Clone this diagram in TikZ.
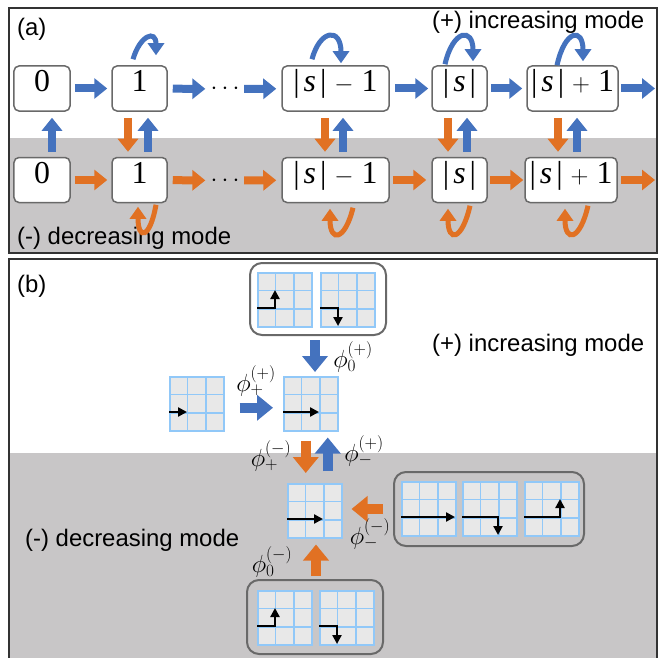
\documentclass[tikz,border=0pt]{standalone}
\usepackage{fontspec}
\setmainfont{Liberation Serif}
\newfontfamily\labelsans{Liberation Sans}
\usetikzlibrary{arrows.meta,calc}
\definecolor{ablue}{RGB}{68,114,190}
\definecolor{aorange}{RGB}{225,113,35}
\definecolor{bggray}{RGB}{200,198,199}
\definecolor{boxgray}{RGB}{105,105,105}
\definecolor{gridblue}{RGB}{145,200,248}
\definecolor{gridfill}{RGB}{232,232,232}
\tikzset{
 statebox/.style={draw=boxgray, line width=1.5bp, rounded corners=5bp, fill=white, minimum height=45bp, inner sep=0pt, text height=0.68em, text depth=0pt, font=\fontsize{32}{32}\selectfont},
 dotsnode/.style={inner sep=0pt, font=\fontsize{34}{34}\selectfont},
 fatblue/.style={ablue, line width=8bp, -{Triangle[length=13bp,width=20bp]}},
 fatorange/.style={aorange, line width=8bp, -{Triangle[length=13bp,width=20bp]}},
 bigblue/.style={ablue, line width=10bp, -{Triangle[length=16bp,width=25bp]}},
 bigorange/.style={aorange, line width=10bp, -{Triangle[length=16bp,width=25bp]}},
 bloop/.style={ablue, line width=5bp, -{Triangle[length=12bp,width=16bp]}},
 oloop/.style={aorange, line width=5bp, -{Triangle[length=12bp,width=16bp]}},
 modetext/.style={font=\labelsans\fontsize{24}{24}\selectfont, inner sep=0pt},
 philabel/.style={font=\fontsize{26}{26}\selectfont, inner sep=0pt},
 gridbox/.style={draw=gridblue, fill=gridfill, line width=1.5bp, minimum size=54bp, inner sep=0pt},
 gridline/.style={gridblue, line width=1.5bp},
 move/.style={black, line width=2.5bp, -{Triangle[length=9bp,width=9bp]}},
 grp/.style={draw=boxgray, line width=2bp, rounded corners=12bp, inner sep=0pt},
 panel/.style={draw=black!80, line width=1.5bp},
}
\newcommand\cellgrid[2]{%
  \node[gridbox, anchor=north west] (#1) at (#2) {};
  \draw[gridline] ($(#1.north west)!1/3!(#1.north east)$) -- ($(#1.south west)!1/3!(#1.south east)$);
  \draw[gridline] ($(#1.north west)!2/3!(#1.north east)$) -- ($(#1.south west)!2/3!(#1.south east)$);
  \draw[gridline] ($(#1.north west)!1/3!(#1.south west)$) -- ($(#1.north east)!1/3!(#1.south east)$);
  \draw[gridline] ($(#1.north west)!2/3!(#1.south west)$) -- ($(#1.north east)!2/3!(#1.south east)$);
}
\newcommand\absS{|\kern4bp\textit{s}\kern4bp|}
\newcommand\absSminus{\absS\hspace{0.25em}$-$\hspace{0.25em}1}
\newcommand\absSplus{\absS\hspace{0.25em}$+$\hspace{0.25em}1}
\begin{document}
\begin{tikzpicture}[x=1bp,y=-1bp]
\useasboundingbox (0,0) rectangle (664,658);
% ---------------- panel (a)
\fill[bggray] (9,138) rectangle (657,253);
\draw[panel] (9,8) rectangle (657,253);
\node[modetext, anchor=west] (labA) at (17,29) {(a)};
\node[modetext, anchor=west] (incA) at (432,22) {(+) increasing mode};
\node[modetext, anchor=west] (decA) at (17,238) {(-) decreasing mode};

\node[statebox, minimum width=56bp] (t0) at (42,88.5) {0};
\node[statebox, minimum width=55bp] (t1) at (139.5,88.5) {1};
\node[dotsnode] (tdots) at (225,89) {$\cdots$};
\node[statebox, minimum width=107bp] (ts1) at (335.5,88.5) {\absSminus};
\node[statebox, minimum width=55bp] (ts) at (459.5,88.5) {\absS};
\node[statebox, minimum width=91bp] (tsp) at (572.5,88.5) {\absSplus};
\coordinate (tend) at (655,88.5);

\node[statebox, minimum width=56bp] (b0) at (42,180) {0};
\node[statebox, minimum width=55bp] (b1) at (139.5,180) {1};
\node[dotsnode] (bdots) at (225,180.5) {$\cdots$};
\node[statebox, minimum width=107bp] (bs1) at (335.5,180) {\absSminus};
\node[statebox, minimum width=55bp] (bs) at (459.5,180) {\absS};
\node[statebox, minimum width=92bp] (bsp) at (571,180) {\absSplus};
\coordinate (bend) at (655,180);

% horizontal arrows
\draw[fatblue, shorten <=4bp, shorten >=4bp] (t0) -- (t1);
\draw[fatblue, shorten <=5bp, shorten >=5bp] (t1) -- (tdots);
\draw[fatblue, shorten <=4.5bp, shorten >=5bp] (tdots) -- (ts1);
\draw[fatblue, shorten <=5bp, shorten >=3bp] (ts1) -- (ts);
\draw[fatblue, shorten <=3bp, shorten >=4bp] (ts) -- (tsp);
\draw[fatblue, shorten <=2bp] (tsp) -- (tend);

\draw[fatorange, shorten <=4bp, shorten >=4bp] (b0) -- (b1);
\draw[fatorange, shorten <=5bp, shorten >=5bp] (b1) -- (bdots);
\draw[fatorange, shorten <=4.5bp, shorten >=5bp] (bdots) -- (bs1);
\draw[fatorange, shorten <=3bp, shorten >=5bp] (bs1) -- (bs);
\draw[fatorange, shorten <=2bp, shorten >=1bp] (bs) -- (bsp);
\draw[fatorange, shorten <=3bp] (bsp) -- (bend);

% vertical arrows
\draw[fatblue, shorten <=5bp, shorten >=6bp] ([xshift=10bp]b0.north) -- ([xshift=10bp]t0.south);
\draw[fatorange, shorten <=6bp, shorten >=5bp] ([xshift=-11.5bp]t1.south) -- ([xshift=-11.5bp]b1.north);
\draw[fatblue, shorten <=5bp, shorten >=6bp] ([xshift=8.5bp]b1.north) -- ([xshift=8.5bp]t1.south);
\draw[fatorange, shorten <=6bp, shorten >=5bp] ([xshift=-10.5bp]ts1.south) -- ([xshift=-10.5bp]bs1.north);
\draw[fatblue, shorten <=5bp, shorten >=6bp] ([xshift=7.5bp]bs1.north) -- ([xshift=7.5bp]ts1.south);
\draw[fatorange, shorten <=6bp, shorten >=5bp] ([xshift=-11.5bp]ts.south) -- ([xshift=-11.5bp]bs.north);
\draw[fatblue, shorten <=5bp, shorten >=6bp] ([xshift=7.5bp]bs.north) -- ([xshift=7.5bp]ts.south);
\draw[fatorange, shorten <=6bp, shorten >=5bp] ([xshift=-14.5bp]tsp.south) -- ([xshift=-14.5bp]tsp.south |- bsp.north);
\draw[fatblue, shorten <=5bp, shorten >=6bp] ([xshift=4.5bp]tsp.south |- bsp.north) -- ([xshift=4.5bp]tsp.south);

% self loops
\draw[bloop] ([shift={(-6.5,-6)}]t1.north) .. controls +(7,-24) and +(0,-26) .. ([shift={(16.5,-10)}]t1.north);
\draw[bloop] ([shift={(-23.5,-6)}]ts1.north) .. controls +(8,-30) and +(0,-36) .. ([shift={(5.5,-2)}]ts1.north);
\draw[bloop] ([shift={(-14.5,-1)}]ts.north) .. controls +(8,-35) and +(0,-34) .. ([shift={(13.5,-4)}]ts.north);
\draw[bloop] ([shift={(-15.5,0)}]tsp.north) .. controls +(8,-36) and +(0,-34) .. ([shift={(10.5,-4)}]tsp.north);

\draw[oloop] ([shift={(16.5,1.5)}]b1.south) .. controls +(-6,34) and +(0,34) .. ([shift={(-1.5,3.5)}]b1.south);
\draw[oloop] ([shift={(17.5,4.5)}]bs1.south) .. controls +(-8,33) and +(0,34) .. ([shift={(-5.5,5.5)}]bs1.south);
\draw[oloop] ([shift={(10.5,2.5)}]bs.south) .. controls +(-8,35) and +(0,34) .. ([shift={(-11.5,5.5)}]bs.south);
\draw[oloop] ([shift={(17,2.5)}]bsp.south) .. controls +(-8,35) and +(0,34) .. ([shift={(-6,5.5)}]bsp.south);

% ---------------- panel (b)
\fill[bggray] (9,453) rectangle (657,670);
\draw[panel] (9,259) rectangle (657,670);
\node[modetext, anchor=west] (labB) at (17,286) {(b)};
\node[modetext, anchor=west] (incB) at (432,345) {(+) increasing mode};
\node[modetext, anchor=west] (decB) at (25,540) {(-) decreasing mode};

\node[grp, minimum width=136bp, minimum height=72bp] (topgrp) at (318,299) {};
\cellgrid{ga1}{257,272}
\cellgrid{ga2}{320,272}
\cellgrid{gl}{169,376}
\cellgrid{gt}{283,376}
\cellgrid{gm}{287,483}
\node[grp, minimum width=190bp, minimum height=74bp] (rgrp) at (489,509) {};
\cellgrid{gr1}{401,481}
\cellgrid{gr2}{462,481}
\cellgrid{gr3}{524,481}
\node[grp, minimum width=136bp, minimum height=74bp] (bgrp) at (315,617) {};
\cellgrid{gb1}{257,590}
\cellgrid{gb2}{319,590}

% moves inside grids
\begin{scope}[shift={(ga1.north west)}]\draw[move] (0,36) -- (18,36) -- (18,18);\end{scope}
\begin{scope}[shift={(ga2.north west)}]\draw[move] (0,36) -- (18,36) -- (18,54);\end{scope}
\begin{scope}[shift={(gl.north west)}]\draw[move] (0,36) -- (18,36);\end{scope}
\begin{scope}[shift={(gt.north west)}]\draw[move] (0,36) -- (36,36);\end{scope}
\begin{scope}[shift={(gm.north west)}]\draw[move] (0,36) -- (36,36);\end{scope}
\begin{scope}[shift={(gr1.north west)}]\draw[move] (0,36) -- (54,36);\end{scope}
\begin{scope}[shift={(gr2.north west)}]\draw[move] (0,36) -- (36,36) -- (36,54);\end{scope}
\begin{scope}[shift={(gr3.north west)}]\draw[move] (0,36) -- (36,36) -- (36,18);\end{scope}
\begin{scope}[shift={(gb1.north west)}]\draw[move] (0,36) -- (18,36) -- (18,18);\end{scope}
\begin{scope}[shift={(gb2.north west)}]\draw[move] (0,36) -- (18,36) -- (18,54);\end{scope}

% big arrows
\draw[bigblue, shorten <=15bp, shorten >=10bp] ([yshift=-4bp]gl.east) -- ([yshift=-4bp]gt.west);
\draw[bigblue, shorten <=4bp, shorten >=4bp] ([xshift=-3bp]topgrp.south) -- ([xshift=-3bp]topgrp.south |- gt.north);
\draw[bigorange, shorten <=9bp, shorten >=10bp] ([xshift=-5bp]gt.south) -- ([xshift=-5bp]gt.south |- gm.north);
\draw[bigblue, shorten <=12bp, shorten >=6bp] ([xshift=13bp]gm.north) -- ([xshift=13bp]gm.north |- gt.south);
\draw[bigorange, shorten <=10bp, shorten >=9bp] (rgrp.west) -- (rgrp.west -| gm.east);
\draw[bigorange, shorten <=3bp, shorten >=6bp] ([xshift=1bp]bgrp.north) -- ([xshift=1bp]bgrp.north |- gm.south);

% labels
\node[philabel] (lpp) at (256,381) {$\phi_{+}^{(+)}$};
\node[philabel] (l0p) at (353,357) {$\phi_{0}^{(+)}$};
\node[philabel] (lpm) at (271,456) {$\phi_{+}^{(-)}$};
\node[philabel] (lmp) at (364,451) {$\phi_{-}^{(+)}$};
\node[philabel] (lmm) at (370,534) {$\phi_{-}^{(-)}$};
\node[philabel] (l0m) at (272,562) {$\phi_{0}^{(-)}$};
\end{tikzpicture}
\end{document}
